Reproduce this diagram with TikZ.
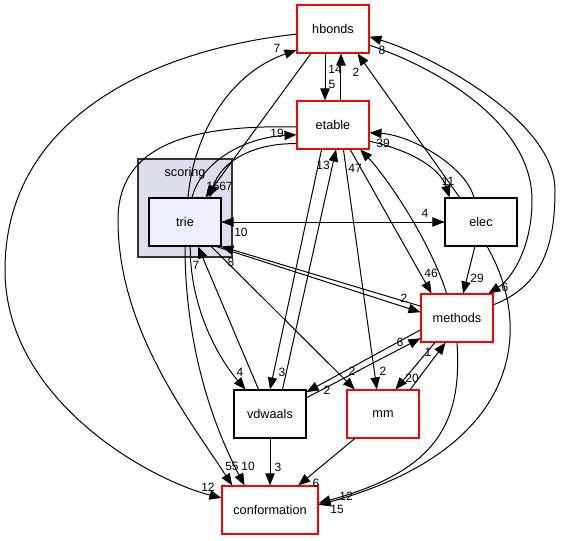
\documentclass[tikz,border=0pt]{standalone}
\usepackage{fontspec}
\setmainfont{Liberation Sans}
\usetikzlibrary{arrows.meta}
\definecolor{clusterfill}{HTML}{DDDDEE}
\definecolor{clusterline}{HTML}{333333}
\definecolor{triefill}{HTML}{EEEEFF}
\definecolor{dirred}{HTML}{FF0000}
\tikzset{
    %Define standard arrow tip
    >={Triangle[length=9pt,width=7pt]},
    %Define style for boxes
    dirbox/.style={
           rectangle,
           draw=black, line width=0.8pt,
           minimum width=54pt,
           minimum height=36pt,
           font=\fontsize{9.5}{11}\selectfont,
           text centered},
    reddir/.style={
           dirbox,
           draw=dirred},
    innerdir/.style={
           dirbox,
           fill=triefill},
    cluster/.style={
           rectangle,
           draw=clusterline, line width=1pt,
           fill=clusterfill},
    % Define label style
    lbl/.style={
           font=\fontsize{9}{10}\selectfont,
           inner sep=0pt},
    % Define arrow style
    pil/.style={
           ->,
           line width=0.75pt}
}

\begin{document}
\begin{tikzpicture}[x=0.75pt,y=-0.75pt]
\useasboundingbox (0,0) rectangle (561,540);
 %cluster
\node[cluster, minimum width=70.5pt, minimum height=73.5pt] (scoring) at (185,208) {};
\node[lbl, font=\fontsize{9.5}{11}\selectfont] (scoringname) at (185,173) {scoring};
 %nodes
\node[reddir] (hbonds) at (333,29) {hbonds};
\node[reddir] (etable) at (333,125) {etable};
\node[innerdir] (trie) at (185,222) {trie};
\node[dirbox] (elec) at (481,222) {elec};
\node[reddir] (methods) at (457,318) {methods};
\node[dirbox] (vdwaals) at (270,414) {vdwaals};
\node[reddir] (mm) at (383,414) {mm};
\node[reddir, minimum width=72pt] (conformation) at (270,510) {conformation};
 %edges
\draw[pil] (hbonds.188) .. controls (150,50) and (5,120) .. (5,270)
   .. controls (5,400) and (150,480) .. (conformation.166);
\draw[pil] (trie.83) .. controls (193,140) and (225,75) .. (hbonds.210);
\draw[pil] (hbonds.228) -- (trie.50);
\draw[pil] (etable.207) .. controls (255,143) and (222,160) .. (trie.45);
\draw[pil] (trie.74) .. controls (200,165) and (240,138) .. (etable.195);
\draw[pil] (hbonds.252) -- (etable.108);
\draw[pil] (etable.72) -- (hbonds.288);
\draw[pil] (elec.131) -- (hbonds.-45);
\draw[pil] (elec.106) .. controls (465,165) and (410,135) .. (etable.-12);
\draw[pil] (etable.-24) .. controls (410,150) and (440,168) .. (elec.142);
\draw[pil] (etable.183) .. controls (200,125) and (118,140) .. (118,220)
   .. controls (118,330) and (190,420) .. (conformation.147);
\draw[pil] (trie.-90) .. controls (185,330) and (205,410) .. (conformation.136);
\draw[pil] (trie.-78) .. controls (190,310) and (220,360) .. (vdwaals.135);
\draw[pil] (vdwaals.115) -- (trie.-62);
\draw[pil] (etable.245) -- (vdwaals.90);
\draw[pil] (vdwaals.63) -- (etable.-83);
\draw[pil] (etable.-67) -- (mm.104);
\draw[pil] (trie.-43) -- (mm.139);
\draw[pil] (methods.162) -- (trie.-34);
\draw[pil] (trie.-38) -- (methods.171);
\draw[pil] (etable.-55) -- (methods.136);
\draw[pil] (methods.113) .. controls (430,240) and (385,175) .. (etable.-42);
\draw[pil] (elec.256) -- (methods.76);
\draw[pil] (hbonds.-24) .. controls (430,65) and (532,120) .. (532,200)
   .. controls (532,250) and (510,280) .. (methods.38);
\draw[pil] (methods.20) .. controls (545,285) and (555,240) .. (555,190)
   .. controls (555,120) and (430,55) .. (hbonds.-12);
\draw[pil] (trie) -- (elec);
\draw[pil] (elec) -- (trie);
\draw[pil] (elec.-76) .. controls (535,330) and (520,450) .. (conformation.6);
\draw[pil] (methods.-90) .. controls (462,420) and (440,470) .. (conformation.8);
\draw[pil] (vdwaals) -- (conformation);
\draw[pil] (mm.221) -- (conformation.41);
\draw[pil] (methods.198) -- (vdwaals.31);
\draw[pil] (vdwaals.24) -- (methods.209);
\draw[pil] (methods.228) -- (mm.63);
\draw[pil] (mm.42) -- (methods.245);
 %labels
\node[lbl] (hcl) at (208,487) {12};
\node[lbl] (thl) at (277,48) {7};
\node[lbl] (htl) at (213,186) {15};
\node[lbl] (etl) at (226,186) {67};
\node[lbl] (hel) at (332,84) {5};
\node[lbl] (ehl) at (335,69) {14};
\node[lbl] (lhl) at (356,72) {2};
\node[lbl] (tel) at (277,133) {19};
\node[lbl] (lel) at (383,143) {39};
\node[lbl] (ell) at (448,181) {11};
\node[lbl] (vel) at (323,165) {13};
\node[lbl] (mel) at (355,168) {47};
\node[lbl] (eml) at (431,273) {46};
\node[lbl] (lml) at (477,278) {29};
\node[lbl] (hml) at (505,287) {6};
\node[lbl] (ltl) at (241,232) {10};
\node[lbl] (tll) at (425,213) {4};
\node[lbl] (mtl) at (231,262) {8};
\node[lbl] (tml) at (404,298) {2};
\node[lbl] (vtl) at (196,265) {7};
\node[lbl] (tvl) at (240,372) {4};
\node[lbl] (evl) at (282,372) {3};
\node[lbl] (tmml) at (352,371) {2};
\node[lbl] (emml) at (383,371) {2};
\node[lbl] (vml) at (400,342) {6};
\node[lbl] (mvl) at (327,390) {2};
\node[lbl] (mmml) at (428,352) {1};
\node[lbl] (mmmlb) at (412,378) {20};
\node[lbl] (ecl) at (232,466) {55};
\node[lbl] (tcl) at (248,466) {10};
\node[lbl] (vcl) at (278,467) {3};
\node[lbl] (mmcl) at (316,483) {6};
\node[lbl] (lcl) at (346,496) {12};
\node[lbl] (mcl) at (337,509) {15};
\node[lbl] (mhl) at (382,50) {8};
\end{tikzpicture}
\end{document}
